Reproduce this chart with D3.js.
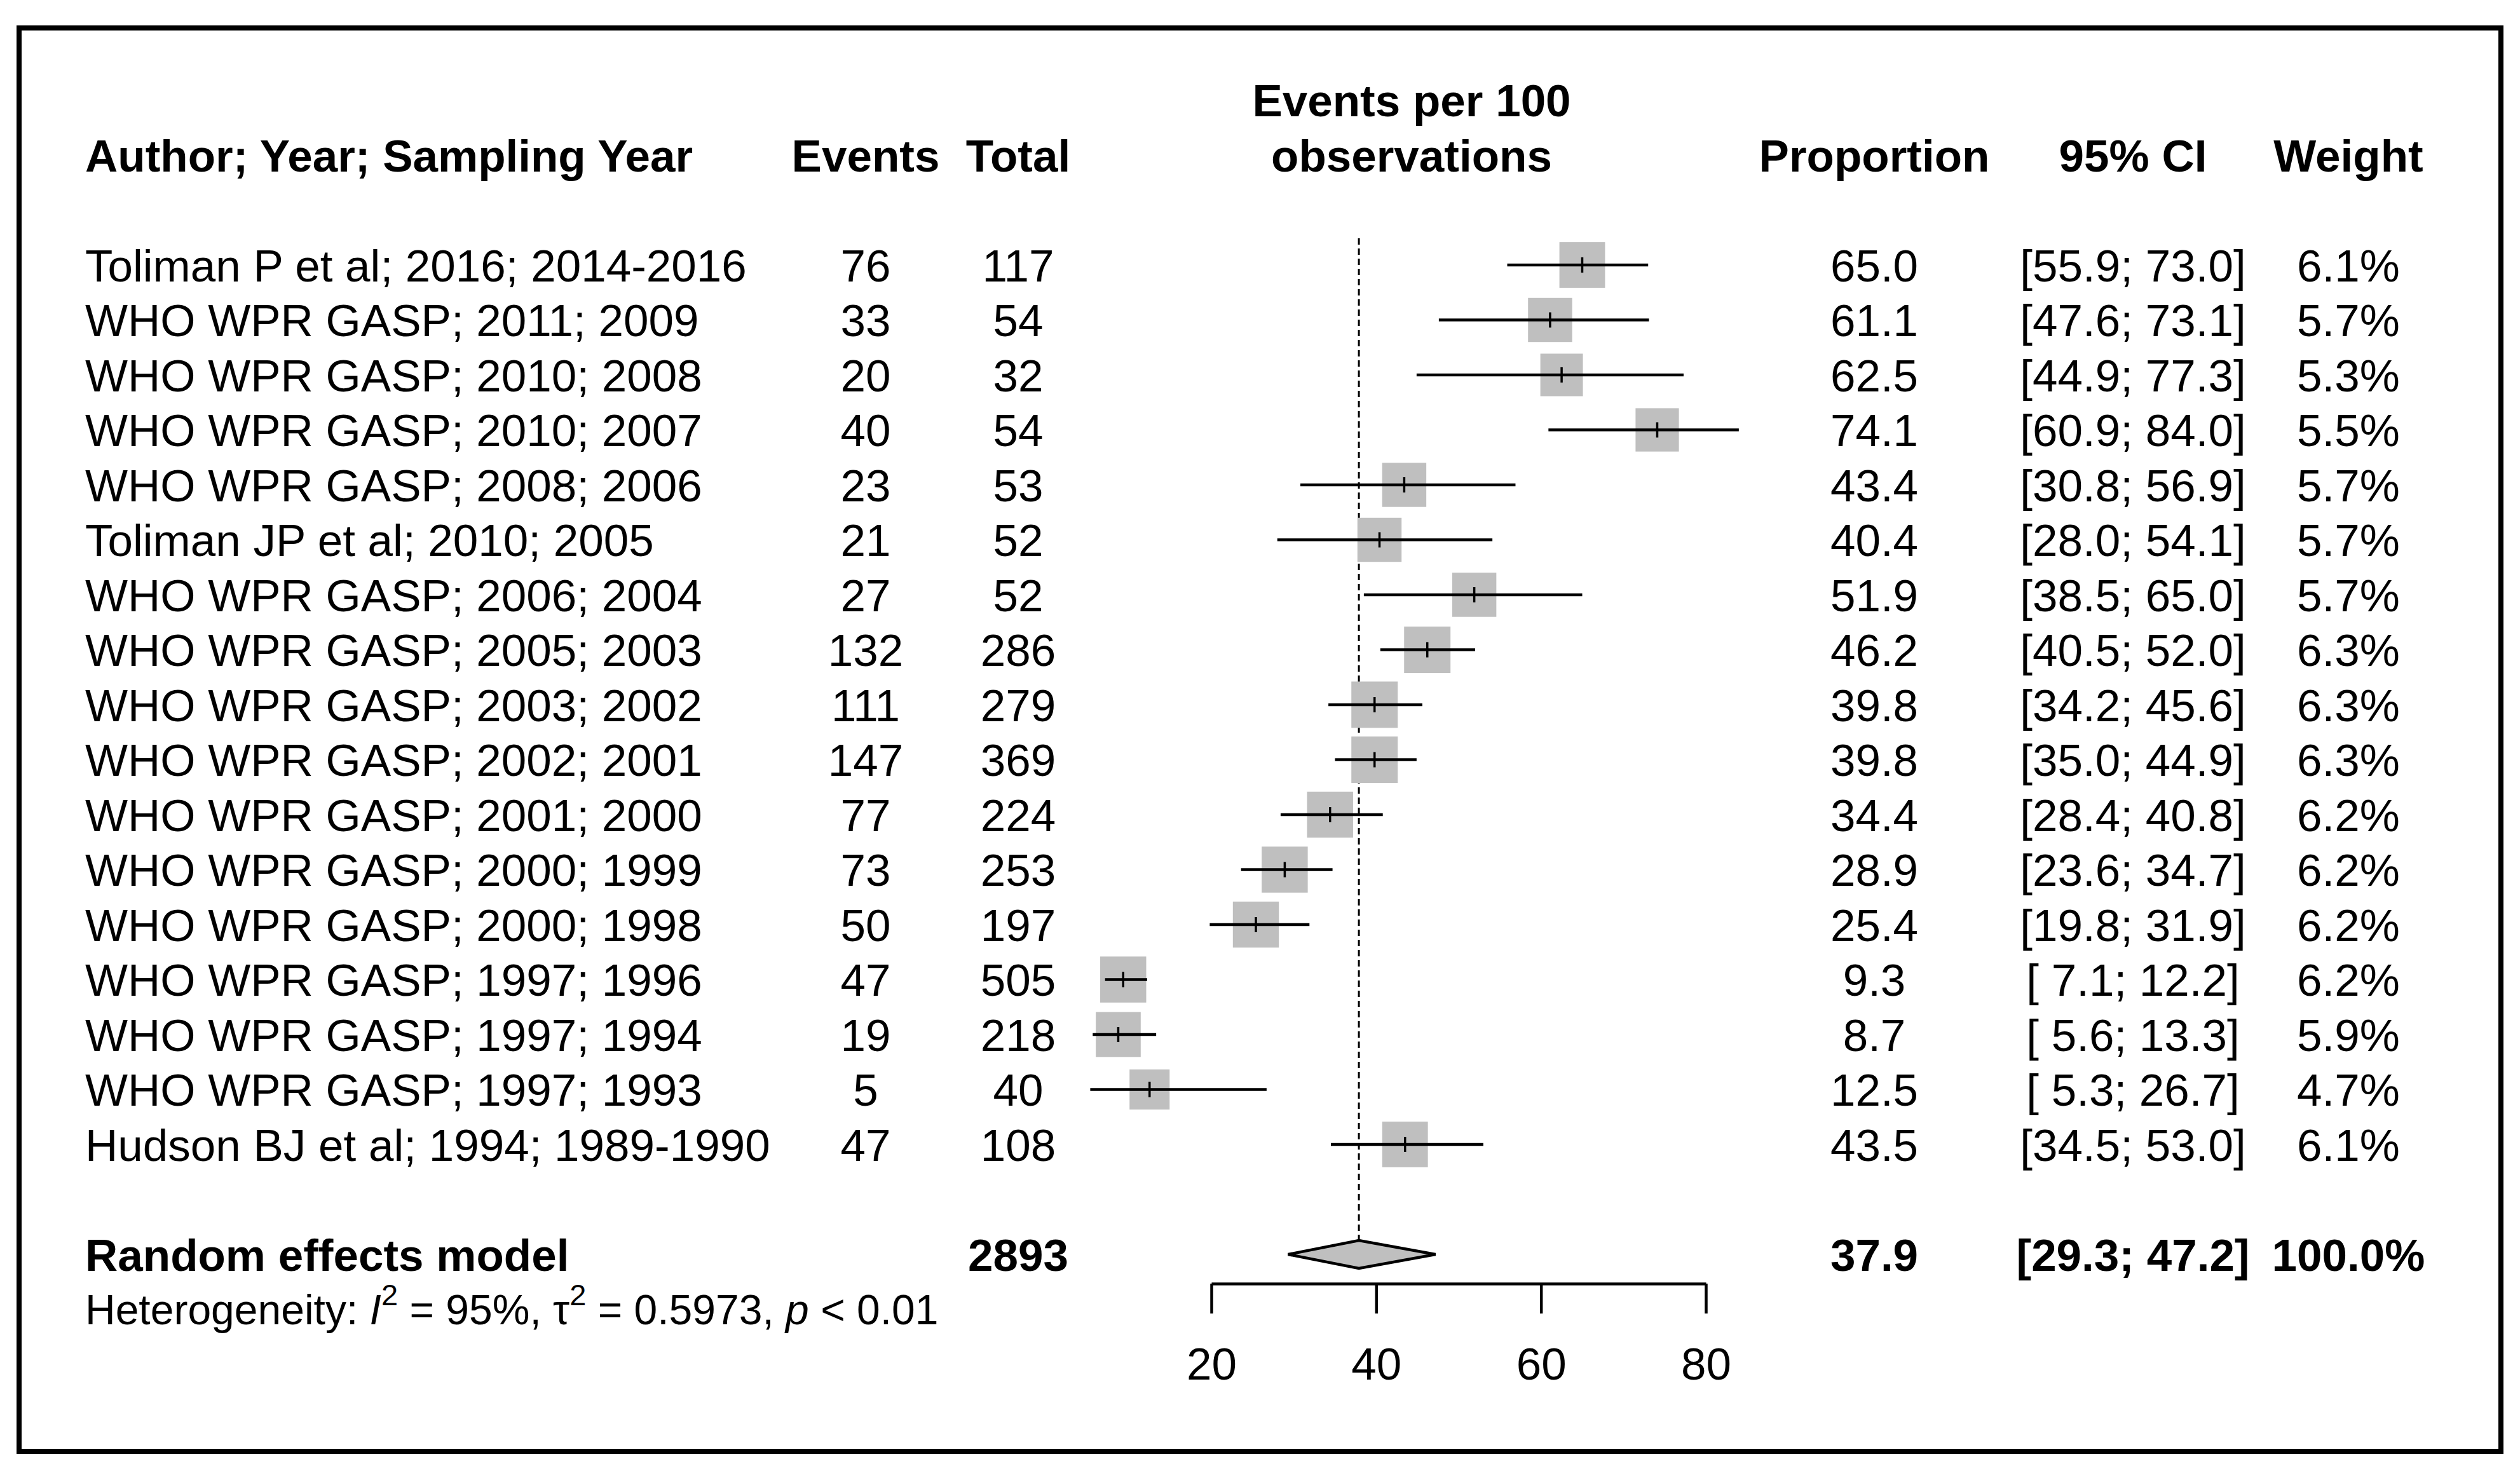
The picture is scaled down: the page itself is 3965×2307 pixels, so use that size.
<!DOCTYPE html>
<html>
<head>
<meta charset="utf-8">
<script src="https://cdn.jsdelivr.net/npm/d3@7"></script>
<style>
  body { margin: 0; background: #fff; }
  text { font-family: "Liberation Sans", Arial, sans-serif; fill: #000; }
</style>
</head>
<body>
<script>
var studies = [
    "Toliman P et al; 2016; 2014-2016",
    "WHO WPR GASP; 2011; 2009",
    "WHO WPR GASP; 2010; 2008",
    "WHO WPR GASP; 2010; 2007",
    "WHO WPR GASP; 2008; 2006",
    "Toliman JP et al; 2010; 2005",
    "WHO WPR GASP; 2006; 2004",
    "WHO WPR GASP; 2005; 2003",
    "WHO WPR GASP; 2003; 2002",
    "WHO WPR GASP; 2002; 2001",
    "WHO WPR GASP; 2001; 2000",
    "WHO WPR GASP; 2000; 1999",
    "WHO WPR GASP; 2000; 1998",
    "WHO WPR GASP; 1997; 1996",
    "WHO WPR GASP; 1997; 1994",
    "WHO WPR GASP; 1997; 1993",
    "Hudson BJ et al; 1994; 1989-1990"
];
var events = [76, 33, 20, 40, 23, 21, 27, 132, 111, 147, 77, 73, 50, 47, 19, 5, 47];
var totals = [117, 54, 32, 54, 53, 52, 52, 286, 279, 369, 224, 253, 197, 505, 218, 40, 108];
var proportion = [65.0, 61.1, 62.5, 74.1, 43.4, 40.4, 51.9, 46.2, 39.8, 39.8, 34.4, 28.9, 25.4, 9.3, 8.7, 12.5, 43.5];
var lower = [55.9, 47.6, 44.9, 60.9, 30.8, 28.0, 38.5, 40.5, 34.2, 35.0, 28.4, 23.6, 19.8, 7.1, 5.6, 5.3, 34.5];
var upper = [73.0, 73.1, 77.3, 84.0, 56.9, 54.1, 65.0, 52.0, 45.6, 44.9, 40.8, 34.7, 31.9, 12.2, 13.3, 26.7, 53.0];
var weights = [6.1, 5.7, 5.3, 5.5, 5.7, 5.7, 5.7, 6.3, 6.3, 6.3, 6.2, 6.2, 6.2, 6.2, 5.9, 4.7, 6.1];

var pooled = { label: "Random effects model", total: 2893, est: 37.9, lo: 29.3, hi: 47.2, weight: 100.0 };
var heterogeneity = { i2: "95%", tau2: "0.5973", p: "< 0.01" };
var axisTicks = [20, 40, 60, 80];

(function() {
    var width = 3965, height = 2307;
    var fs = 71;

    var svg = d3.select("body")
        .append("svg")
        .attr("width", width)
        .attr("height", height);

    svg.append("rect")
        .attr("x", 30).attr("y", 44)
        .attr("width", 3905).attr("height", 2240)
        .attr("fill", "#fff")
        .attr("stroke", "#000")
        .attr("stroke-width", 8);

    var rows = studies.map((s, i) => ({
        study: s, events: events[i], total: totals[i],
        est: proportion[i], lo: lower[i], hi: upper[i], w: weights[i]
    }));

    var x = d3.scaleLinear().domain([20, 80]).range([1906, 2684]);
    var y = d3.scaleLinear().domain([0, 1]).range([417, 503.5]);
    var headerY = y(-2), pooledY = y(studies.length + 1);
    var side = d3.scaleSqrt().domain([0, 6.3]).range([0, 73]);

    var col = { study: 134, events: 1362, total: 1602, prop: 2949, ci: 3356, weight: 3695, plot: 2221 };
    var f1 = d3.format(".1f");
    function pad(v) { var s = f1(v); return s.length < 4 ? " " + s : s; }
    function ci(lo, hi) { return "[" + pad(lo) + "; " + pad(hi) + "]"; }

    function txt(xp, yp, t, anchor, bold, size) {
        return svg.append("text")
            .attr("x", xp).attr("y", yp).attr("dy", "0.36em")
            .attr("text-anchor", anchor)
            .style("font-size", (size || fs) + "px")
            .style("font-weight", bold ? "bold" : "normal")
            .style("white-space", "pre")
            .text(t);
    }

    // header
    txt(col.study, headerY, "Author; Year; Sampling Year", "start", true);
    txt(col.events, headerY, "Events", "middle", true);
    txt(col.total, headerY, "Total", "middle", true);
    txt(col.plot, y(-3), "Events per 100", "middle", true);
    txt(col.plot, headerY, "observations", "middle", true);
    txt(col.prop, headerY, "Proportion", "middle", true);
    txt(col.ci, headerY, "95% CI", "middle", true);
    txt(col.weight, headerY, "Weight", "middle", true);

    // study rows
    rows.forEach((d, i) => {
        var yy = y(i);
        txt(col.study, yy, d.study, "start", false);
        txt(col.events, yy, d.events, "middle", false);
        txt(col.total, yy, d.total, "middle", false);
        txt(col.prop, yy, f1(d.est), "middle", false);
        txt(col.ci, yy, ci(d.lo, d.hi), "middle", false);
        txt(col.weight, yy, f1(d.w) + "%", "middle", false);
    });

    // pooled row
    txt(col.study, pooledY, pooled.label, "start", true);
    txt(col.total, pooledY, pooled.total, "middle", true);
    txt(col.prop, pooledY, f1(pooled.est), "middle", true);
    txt(col.ci, pooledY, ci(pooled.lo, pooled.hi), "middle", true);
    txt(col.weight, pooledY, f1(pooled.weight) + "%", "middle", true);

    // heterogeneity line
    var het = svg.append("text")
        .attr("x", col.study).attr("y", y(studies.length + 2)).attr("dy", "0.36em")
        .style("font-size", "66px")
        .style("white-space", "pre");
    het.append("tspan").text("Heterogeneity: ");
    het.append("tspan").style("font-style", "italic").text("I");
    het.append("tspan").attr("dy", -30).style("font-size", "47px").text("2");
    het.append("tspan").attr("dy", 30).text(" = " + heterogeneity.i2 + ", ");
    het.append("tspan").text("\u03c4");
    het.append("tspan").attr("dy", -30).style("font-size", "47px").text("2");
    het.append("tspan").attr("dy", 30).text(" = " + heterogeneity.tau2 + ", ");
    het.append("tspan").style("font-style", "italic").text("p");
    het.append("tspan").text(" " + heterogeneity.p);

    // reference line at pooled estimate
    svg.append("line")
        .attr("x1", x(pooled.est)).attr("x2", x(pooled.est))
        .attr("y1", 375).attr("y2", pooledY - 20)
        .attr("stroke", "#000")
        .attr("stroke-width", 3)
        .attr("stroke-dasharray", "10,6");

    var plot = svg.append("g");

    plot.selectAll(".sq")
        .data(rows)
        .enter()
        .append("rect")
        .attr("class", "sq")
        .attr("x", d => x(d.est) - side(d.w) / 2)
        .attr("y", (d, i) => y(i) - side(d.w) / 2)
        .attr("width", d => side(d.w))
        .attr("height", d => side(d.w))
        .attr("fill", "#bfbfbf");

    plot.selectAll(".ci")
        .data(rows)
        .enter()
        .append("line")
        .attr("class", "ci")
        .attr("x1", d => x(d.lo))
        .attr("x2", d => x(d.hi))
        .attr("y1", (d, i) => y(i))
        .attr("y2", (d, i) => y(i))
        .attr("stroke", "#000")
        .attr("stroke-width", 4.5);

    plot.selectAll(".pt")
        .data(rows)
        .enter()
        .append("line")
        .attr("class", "pt")
        .attr("x1", d => x(d.est))
        .attr("x2", d => x(d.est))
        .attr("y1", (d, i) => y(i) - 12)
        .attr("y2", (d, i) => y(i) + 12)
        .attr("stroke", "#000")
        .attr("stroke-width", 3.5);

    // diamond
    var dh = 22;
    plot.append("path")
        .attr("d", "M" + x(pooled.lo) + "," + pooledY +
            "L" + x(pooled.est) + "," + (pooledY - dh) +
            "L" + x(pooled.hi) + "," + pooledY +
            "L" + x(pooled.est) + "," + (pooledY + dh) + "Z")
        .attr("fill", "#bfbfbf")
        .attr("stroke", "#000")
        .attr("stroke-width", 4.5);

    // axis
    var axis = d3.axisBottom(x)
        .tickValues(axisTicks)
        .tickSize(47)
        .tickSizeOuter(0)
        .tickPadding(54)
        .tickFormat(d3.format("d"));

    var axG = svg.append("g")
        .attr("transform", "translate(0,2020)")
        .call(axis);
    axG.selectAll("path, line").attr("stroke", "#000").attr("stroke-width", 4.5);
    axG.selectAll("text")
        .attr("dy", "0.71em")
        .style("font-size", fs + "px")
        .style("font-family", "'Liberation Sans', Arial, sans-serif");
})();
</script>
</body>
</html>
